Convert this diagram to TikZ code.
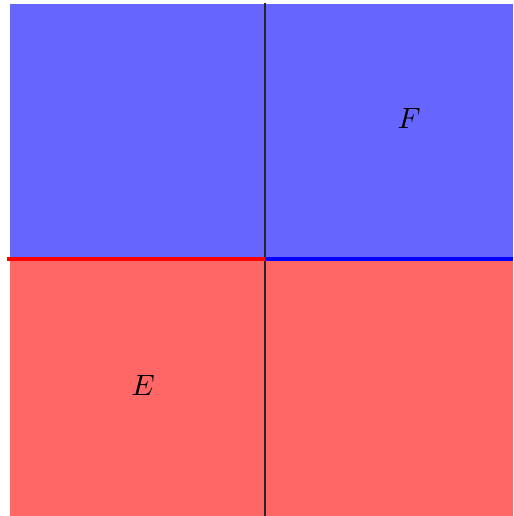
\documentclass[tikz,border=0pt]{standalone}
\usepackage{tikz}
\begin{document}
\begin{tikzpicture}[x=0.34pt, y=-0.34pt,
  edge/.style={line width=1.6pt},
  lbl/.style={inner sep=0pt}]
\useasboundingbox (0,0) rectangle (513,516);
% half planes
\fill[blue!60] (10,4) rectangle (513,259);
\fill[red!60] (10,259) rectangle (513,516);
% axis
\coordinate (top) at (265,3);
\coordinate (bot) at (265,516);
\draw[black!85, line width=0.7pt] (top) -- (bot);
% boundary
\coordinate (l) at (7,259);
\coordinate (m) at (265,259);
\coordinate (r) at (513,259);
\draw[edge, red] (l) -- (m);
\draw[edge, blue] (m) -- (r);
\node[lbl] (F) at (409,118) {$F$};
\node[lbl] (E) at (143,385) {$E$};
\end{tikzpicture}
\end{document}
